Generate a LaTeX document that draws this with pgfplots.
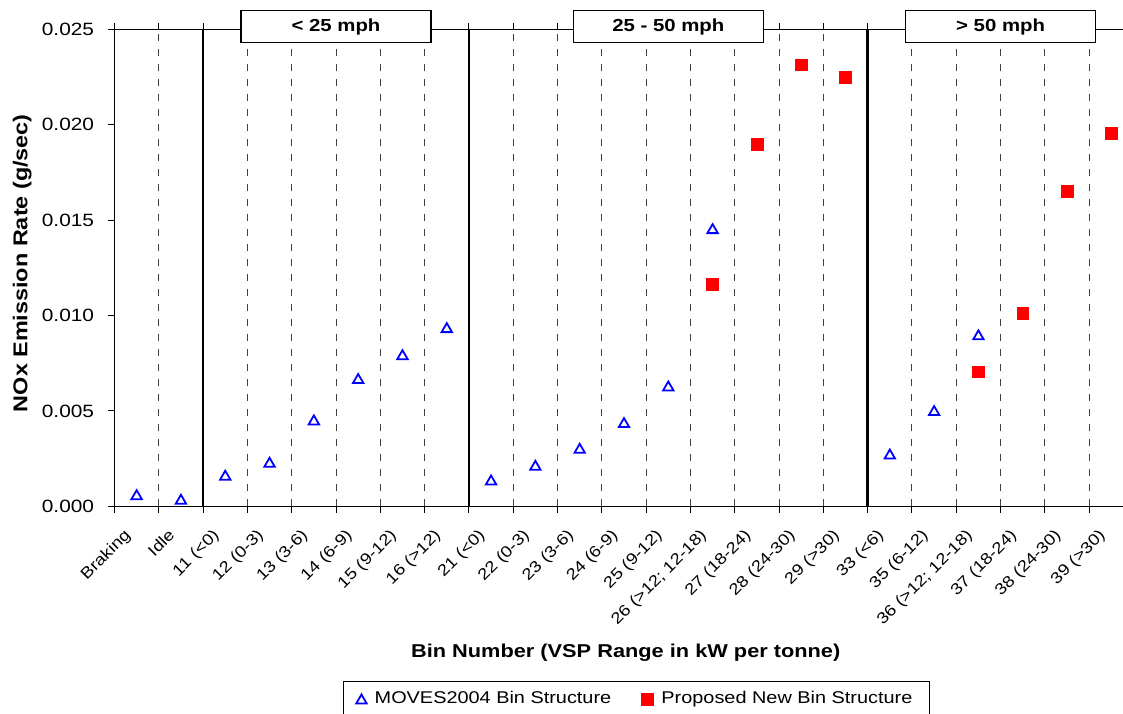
\documentclass[border=0pt]{standalone}
\usepackage{pgfplots}
\pgfplotsset{compat=1.18}
\usepackage{fontspec}
\setmainfont[FakeStretch=1.17]{Liberation Sans}

\definecolor{movesblue}{RGB}{0,0,255}
\definecolor{newred}{RGB}{255,0,0}

\begin{document}
\begin{tikzpicture}
\useasboundingbox (-57.25pt,-103.35pt) rectangle (504.25pt,253.15pt);
\begin{axis}[
  at={(0pt,0pt)}, anchor=south west,
  scale only axis, width=509.5pt, height=238.4pt,
  xmin=-0.5, xmax=22.5, ymin=0, ymax=0.025,
  clip=false,
  axis line style={line width=0.6pt},
  tick align=outside, major tick length=3.2pt,
  tick style={black, line width=0.5pt},
  xtick={-0.5,0.5,1.5,2.5,3.5,4.5,5.5,6.5,7.5,8.5,9.5,10.5,11.5,12.5,13.5,14.5,15.5,16.5,17.5,18.5,19.5,20.5,21.5,22.5},
  x tick label as interval,
  xticklabels={Braking, Idle, 11 (<0), 12 (0-3), 13 (3-6), 14 (6-9), 15 (9-12), 16 (>12),
    21 (<0), 22 (0-3), 23 (3-6), 24 (6-9), 25 (9-12), 26 (>12; 12-18), 27 (18-24),
    28 (24-30), 29 (>30), 33 (<6), 35 (6-12), 36 (>12; 12-18), 37 (18-24), 38 (24-30), 39 (>30)},
  xticklabel style={xshift=-6.8pt, yshift=-6pt, rotate=45, anchor=north east, inner sep=1pt,
    font=\fontsize{7.9}{9}\selectfont},
  ytick={0,0.005,0.01,0.015,0.02,0.025},
  yticklabel style={/pgf/number format/.cd, fixed, fixed zerofill, precision=3, assume math mode=true,
    /tikz/.cd, font=\fontsize{8.9}{11}\selectfont, xshift=-3.5pt},
  scaled y ticks=false,
  xmajorgrids,
  major grid style={dash pattern=on 3.5pt off 4pt, black!75, line width=0.5pt},
  xlabel={Bin Number (VSP Range in kW per tonne)},
  xlabel style={at={(axis description cs:0.5017,-0.3167)}, anchor=base,
    font=\bfseries\fontsize{9.3}{11}\selectfont},
  ylabel={NOx Emission Rate (g/sec)},
  ylabel style={at={(axis description cs:-0.0854,0.51)}, anchor=base,
    font=\bfseries\fontsize{10}{12}\selectfont},
  legend columns=2,
  legend cell align=left,
  legend style={at={(axis description cs:0.22394,-0.3658)}, anchor=north west,
    draw=black, line width=0.6pt, inner xsep=6.5pt, inner ysep=3pt,
    font=\fontsize{8.5}{10}\selectfont,
    /tikz/every odd column/.append style={column sep=2pt},
    /tikz/every even column/.append style={column sep=13.2pt}},
  legend image code/.code={\draw[#1] plot coordinates {(3pt,0pt)};},
]
% speed-class separators
\draw[line width=1.2pt, black] (axis cs:1.5,0) -- (axis cs:1.5,0.025);
\draw[line width=1.2pt, black] (axis cs:7.5,0) -- (axis cs:7.5,0.025);
\draw[line width=1.2pt, black] (axis cs:16.5,0) -- (axis cs:16.5,0.025);

\addplot[only marks, mark=triangle, mark size=3pt,
  mark options={draw=movesblue, fill=none, line width=0.9pt, yshift=-0.75pt}]
  coordinates {
  (0,0.00061) (1,0.00037) (2,0.00163) (3,0.00231) (4,0.00453) (5,0.00670)
  (6,0.00795) (7,0.00937) (8,0.00138) (9,0.00215) (10,0.00304) (11,0.00439)
  (12,0.00631) (13,0.01456) (17,0.00274) (18,0.00502) (19,0.00899)};
\addlegendentry{MOVES2004 Bin Structure}

\addplot[only marks, mark=square*, mark size=2.95pt,
  mark options={draw=newred, fill=newred, line width=0.3pt}]
  coordinates {
  (13,0.01166) (14,0.01899) (15,0.02315) (16,0.02249)
  (19,0.00705) (20,0.01013) (21,0.01651) (22,0.01955)};
\addlegendentry{Proposed New Bin Structure}

% speed-class headers
\tikzset{hdr/.style={draw=black, line width=0.6pt, fill=white, minimum width=95pt,
  minimum height=16.2pt, inner sep=0pt, yshift=1.5pt, font=\bfseries\fontsize{8.7}{10}\selectfont}}
\node[hdr] at (axis cs:4.5,0.025) {< 25 mph};
\node[hdr] at (axis cs:12,0.025) {25 - 50 mph};
\node[hdr] at (axis cs:19.5,0.025) {> 50 mph};
\end{axis}
\end{tikzpicture}
\end{document}
